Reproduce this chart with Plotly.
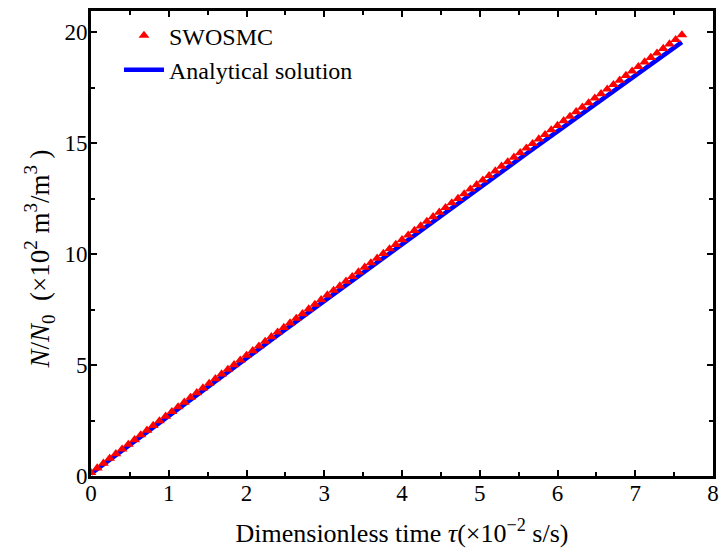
import plotly.graph_objects as go

# SWOSMC (simulation) points
sim_x = [0.00, 0.08, 0.16, 0.24, 0.32, 0.40, 0.48, 0.56, 0.64, 0.72,
         0.80, 0.88, 0.96, 1.04, 1.12, 1.20, 1.28, 1.36, 1.44, 1.52,
         1.60, 1.68, 1.76, 1.84, 1.92, 2.00, 2.08, 2.16, 2.24, 2.32,
         2.40, 2.48, 2.56, 2.64, 2.72, 2.80, 2.88, 2.96, 3.04, 3.12,
         3.20, 3.28, 3.36, 3.44, 3.52, 3.60, 3.68, 3.76, 3.84, 3.92,
         4.00, 4.08, 4.16, 4.24, 4.32, 4.40, 4.48, 4.56, 4.64, 4.72,
         4.80, 4.88, 4.96, 5.04, 5.12, 5.20, 5.28, 5.36, 5.44, 5.52,
         5.60, 5.68, 5.76, 5.84, 5.92, 6.00, 6.08, 6.16, 6.24, 6.32,
         6.40, 6.48, 6.56, 6.64, 6.72, 6.80, 6.88, 6.96, 7.04, 7.12,
         7.20, 7.28, 7.36, 7.44, 7.52, 7.60]
sim_y = [0.15, 0.36, 0.57, 0.79, 1.00, 1.21, 1.42, 1.63, 1.85, 2.06,
         2.27, 2.48, 2.69, 2.90, 3.11, 3.32, 3.54, 3.75, 3.96, 4.17,
         4.38, 4.59, 4.80, 5.01, 5.22, 5.43, 5.64, 5.85, 6.06, 6.27,
         6.48, 6.69, 6.89, 7.10, 7.31, 7.52, 7.73, 7.94, 8.15, 8.36,
         8.56, 8.77, 8.98, 9.19, 9.40, 9.60, 9.81, 10.02, 10.23, 10.43,
         10.64, 10.85, 11.06, 11.26, 11.47, 11.68, 11.88, 12.09, 12.30, 12.50,
         12.71, 12.92, 13.12, 13.33, 13.53, 13.74, 13.95, 14.15, 14.36, 14.56,
         14.77, 14.97, 15.18, 15.38, 15.59, 15.79, 16.00, 16.20, 16.41, 16.61,
         16.81, 17.02, 17.22, 17.43, 17.63, 17.83, 18.04, 18.24, 18.44, 18.65,
         18.85, 19.05, 19.26, 19.46, 19.66, 19.87]

# Analytical solution
ana_x = [0.0, 0.4, 0.8, 1.2, 1.6, 2.0, 2.4, 2.8, 3.2, 3.6,
         4.0, 4.4, 4.8, 5.2, 5.6, 6.0, 6.4, 6.8, 7.2, 7.6]
ana_y = [0.10, 1.15, 2.19, 3.23, 4.27, 5.31, 6.34, 7.37, 8.40, 9.43,
         10.45, 11.47, 12.49, 13.51, 14.52, 15.53, 16.54, 17.55, 18.55, 19.55]

x_ticks = [0, 1, 2, 3, 4, 5, 6, 7, 8]
y_ticks = [0, 5, 10, 15, 20]

FONT = "Times New Roman, Liberation Serif, serif"

fig = go.Figure()
fig.add_trace(go.Scatter(
    x=ana_x, y=ana_y, mode="lines", name="Analytical solution",
    line=dict(color="#0000ff", width=4.5)))
fig.add_trace(go.Scatter(
    x=sim_x, y=sim_y, mode="markers", name="SWOSMC",
    marker=dict(symbol="triangle-up", color="#ff0000", size=9.5, line=dict(width=0))))

axis_common = dict(
    showline=True, linecolor="black", linewidth=3, mirror="ticks",
    ticks="inside", ticklen=6, tickwidth=2, tickcolor="black",
    showgrid=False, zeroline=False,
    tickfont=dict(family=FONT, size=23, color="black"),
)

fig.update_xaxes(range=[0, 8], tickvals=x_ticks, ticklabelstandoff=-6,
                 minor=dict(ticks="inside", dtick=0.5, ticklen=4, tickwidth=1.5, tickcolor="black"),
                 title=dict(text="Dimensionless time <i>τ</i>(×10<sup>−2</sup> s/s)",
                            font=dict(family=FONT, size=26, color="black"), standoff=20),
                 **axis_common)
fig.update_yaxes(range=[0, 20.95], tickvals=y_ticks, ticklabelstandoff=-4,
                 minor=dict(ticks="inside", dtick=2.5, ticklen=4, tickwidth=1.5, tickcolor="black"),
                 **axis_common)

fig.add_annotation(
    text="<i>N</i>/<i>N</i><sub>0</sub>  (×10<sup>2</sup> m<sup>3</sup>/m<sup>3</sup> )",
    xref="paper", yref="paper", x=0, y=0.5, xanchor="center", yanchor="middle",
    xshift=-52, yshift=-16, textangle=-90, showarrow=False,
    font=dict(family=FONT, size=27, color="black"))

fig.update_layout(
    width=727, height=554,
    margin=dict(l=91, r=8, t=11, b=78),
    paper_bgcolor="white", plot_bgcolor="white",
    showlegend=True,
    legend=dict(x=0.045, y=0.995, xanchor="left", yanchor="top",
                bgcolor="rgba(0,0,0,0)", traceorder="reversed",
                font=dict(family=FONT, size=24, color="black"),
                itemwidth=40, tracegroupgap=0),
)

fig.write_html("out.html")
